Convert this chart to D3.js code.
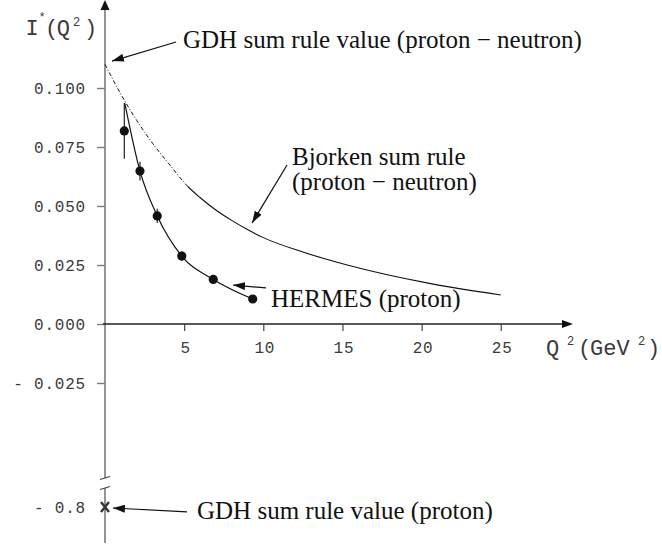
<!DOCTYPE html>
<html>
<head>
<meta charset="utf-8">
<script src="https://cdn.jsdelivr.net/npm/d3@7"></script>
<style>
  body { margin: 0; background: #fff; }
  svg { display: block; }
  .mono { font-family: "Liberation Mono", "Courier New", monospace; fill: #3a3a3a; }
  .serif { font-family: "Liberation Serif", "Times New Roman", serif; fill: #111; font-size: 25px; }
</style>
</head>
<body>
<svg id="chart" width="662" height="546"></svg>
<script>
// HERMES proton data
const hermesQ2 = [1.22, 2.21, 3.30, 4.85, 6.84, 9.33];
const hermesI = [0.0818, 0.0648, 0.0458, 0.0288, 0.0189, 0.0106];
const hermesErr = [0.0118, 0.0040, 0.0030, 0.0020, 0.0015, 0.0010];
// fit drawn through HERMES
const fitQ2 = [1.25, 2.21, 3.30, 4.85, 6.84, 9.33];
const fitI = [0.0936, 0.0648, 0.0458, 0.0288, 0.0189, 0.0106];
// Bjorken sum rule (proton - neutron); dotted below bjDottedTo
const bjQ2 = [0, 1, 2, 3, 4, 5.2, 6, 7, 8, 9, 10, 12.5, 15.3, 20.5, 25];
const bjI = [0.110, 0.0974, 0.0863, 0.0766, 0.0682, 0.0585, 0.0536, 0.0483, 0.0439, 0.0400, 0.0366, 0.0305, 0.0250, 0.0172, 0.0123];
const bjDottedTo = 5.2;
// GDH value for the proton (on the broken lower part of the axis)
const gdhProton = -0.8;

const xTicks = [5, 10, 15, 20, 25];
const yTicks = [0.1, 0.075, 0.05, 0.025, 0, -0.025];
const yTickLabels = ["0.100", "0.075", "0.050", "0.025", "0.000", "- 0.025"];
const yLowTicks = [-0.8];
const yLowTickLabels = ["- 0.8"];

const svg = d3.select("#chart");

const x = d3.scaleLinear().domain([0, 25]).range([105, 500.75]);
const y = d3.scaleLinear().domain([0, 0.1]).range([324, 88]);
const yLow = d3.scaleLinear().domain([-0.8, -0.85]).range([507, 543]);

const axisGrey = "#7a7a7a";

const defs = svg.append("defs");
defs.append("marker")
  .attr("id", "arr")
  .attr("viewBox", "0 0 12 8")
  .attr("refX", 12).attr("refY", 4)
  .attr("markerWidth", 12).attr("markerHeight", 8)
  .attr("markerUnits", "userSpaceOnUse")
  .attr("orient", "auto")
  .append("path").attr("d", "M0,0L12,4L0,8Z").attr("fill", "#111");

// clip regions for the dotted / solid parts of the Bjorken curve
defs.append("clipPath").attr("id", "clipDot").append("rect")
  .attr("x", 0).attr("y", 0).attr("width", x(bjDottedTo)).attr("height", 546);
defs.append("clipPath").attr("id", "clipSolid").append("rect")
  .attr("x", x(bjDottedTo)).attr("y", 0).attr("width", 662).attr("height", 546);

// ---- y axis (upper part, break, lower part)
const ax = x(0);
const breakTop = 478, breakBot = 488;
svg.append("line").attr("x1", ax).attr("x2", ax).attr("y1", 9).attr("y2", breakTop)
  .attr("stroke", axisGrey).attr("stroke-width", 1.6);
svg.append("line").attr("x1", ax).attr("x2", ax).attr("y1", breakBot).attr("y2", yLow(-0.85))
  .attr("stroke", axisGrey).attr("stroke-width", 1.6);
svg.append("path").attr("d", `M${ax},0L${ax - 4.5},10L${ax + 4.5},10Z`).attr("fill", "#111");
[breakTop, breakBot].forEach(b => {
  svg.append("line").attr("x1", ax - 5).attr("x2", ax + 5)
    .attr("y1", b + 1.5).attr("y2", b - 1.5)
    .attr("stroke", "#444").attr("stroke-width", 1.2);
});

function styleTicks(sel) {
  sel.attr("class", "mono")
    .style("font-size", "16px").style("letter-spacing", "0.8px");
}

const yAxis = svg.append("g").attr("transform", `translate(${ax},0)`)
  .call(d3.axisLeft(y).tickValues(yTicks).tickSize(8).tickFormat((d, i) => yTickLabels[i]));
yAxis.select(".domain").remove();
yAxis.selectAll("line").attr("stroke", axisGrey).attr("stroke-width", 1.4);
yAxis.selectAll("text").call(styleTicks).attr("x", -19).attr("dy", "0.35em").attr("fill", null);

const yLowAxis = svg.append("g").attr("transform", `translate(${ax},0)`)
  .call(d3.axisLeft(yLow).tickValues(yLowTicks).tickSize(0).tickFormat((d, i) => yLowTickLabels[i]));
yLowAxis.select(".domain").remove();
yLowAxis.selectAll("text").call(styleTicks).attr("x", -19).attr("dy", "0.35em").attr("fill", null);

// ---- x axis
const ay = y(0);
svg.append("line").attr("x1", ax - 2).attr("x2", 563).attr("y1", ay).attr("y2", ay)
  .attr("stroke", "#222").attr("stroke-width", 1.3);
svg.append("path").attr("d", `M573,${ay}L562,${ay - 4}L562,${ay + 4}Z`).attr("fill", "#111");
const xAxis = svg.append("g").attr("transform", `translate(0,${ay})`)
  .call(d3.axisBottom(x).tickValues(xTicks).tickSize(7).tickFormat(d3.format("d")));
xAxis.select(".domain").remove();
xAxis.selectAll("line").attr("stroke", "#444").attr("stroke-width", 1.2);
xAxis.selectAll("text").call(styleTicks).attr("x", 1).attr("y", 29).attr("dy", 0).attr("fill", null);

// ---- axis titles (one text element each, pieces as tspans)
function title(parts, baseline) {
  const t = svg.append("text").attr("class", "mono").attr("y", baseline);
  parts.forEach(p => {
    t.append("tspan").attr("x", p.x).attr("y", baseline - (p.sup ? p.sup : 0))
      .style("font-size", p.size + "px")
      .style("letter-spacing", p.ls ? p.ls + "px" : null)
      .text(p.s);
  });
}
title([
  { s: "I", x: 25.5, size: 22 },
  { s: "*", x: 38.5, size: 12, sup: 14 },
  { s: "(Q", x: 45, size: 22, ls: -1.5 },
  { s: "2", x: 73, size: 12, sup: 9 },
  { s: ")", x: 84, size: 22 }
], 35);
title([
  { s: "Q", x: 546, size: 22 },
  { s: "2", x: 567, size: 12, sup: 10 },
  { s: "(", x: 578, size: 22 },
  { s: "GeV", x: 590, size: 22 },
  { s: "2", x: 638, size: 12, sup: 10 },
  { s: ")", x: 647, size: 22 }
], 355);

// ---- Bjorken curve (one smooth curve, dotted then solid)
const line = d3.line().x(d => x(d[0])).y(d => y(d[1])).curve(d3.curveMonotoneX);
const bjPath = line(d3.zip(bjQ2, bjI));
svg.append("path")
  .attr("d", bjPath).attr("clip-path", "url(#clipDot)")
  .attr("fill", "none").attr("stroke", "#111").attr("stroke-width", 1)
  .attr("stroke-dasharray", "4,2,1,2");
svg.append("path")
  .attr("d", bjPath).attr("clip-path", "url(#clipSolid)")
  .attr("fill", "none").attr("stroke", "#111").attr("stroke-width", 1.1);

// ---- HERMES fit + points
svg.append("path")
  .attr("d", line(d3.zip(fitQ2, fitI)))
  .attr("fill", "none").attr("stroke", "#111").attr("stroke-width", 1.2);

const pts = d3.zip(hermesQ2, hermesI, hermesErr);
svg.append("g").selectAll("line").data(pts).join("line")
  .attr("x1", d => x(d[0])).attr("x2", d => x(d[0]))
  .attr("y1", d => y(d[1] - d[2])).attr("y2", d => y(d[1] + d[2]))
  .attr("stroke", "#222").attr("stroke-width", 1.2);
svg.append("g").selectAll("circle").data(pts).join("circle")
  .attr("cx", d => x(d[0])).attr("cy", d => y(d[1])).attr("r", 4.6)
  .attr("fill", "#111");

// ---- GDH proton marker (X)
const gx = x(0), gy = yLow(gdhProton);
svg.append("path")
  .attr("d", `M${gx - 4},${gy - 5}L${gx + 4},${gy + 5}M${gx + 4},${gy - 5}L${gx - 4},${gy + 5}`)
  .attr("stroke", "#333").attr("stroke-width", 2.4).attr("fill", "none");

// ---- annotations
const arrows = [
  { from: [x(4.49), y(0.1195)], to: [x(0.44), y(0.1114)] },
  { from: [x(11.5), y(0.0674)], to: [x(9.29), y(0.0428)] },
  { from: [x(10.17), y(0.0153)], to: [x(8.09), y(0.0165)] },
  { from: [x(5.18), yLow(-0.8069)], to: [x(0.5), yLow(-0.8014)] }
];
svg.append("g").selectAll("line").data(arrows).join("line")
  .attr("x1", d => d.from[0]).attr("y1", d => d.from[1])
  .attr("x2", d => d.to[0]).attr("y2", d => d.to[1])
  .attr("stroke", "#111").attr("stroke-width", 1.2)
  .attr("marker-end", "url(#arr)");

const notes = [
  { x: 183, y: 48, t: "GDH sum rule value (proton \u2212 neutron)" },
  { x: 292, y: 165, t: "Bjorken sum rule" },
  { x: 292, y: 190, t: "(proton \u2212 neutron)" },
  { x: 271, y: 307, t: "HERMES (proton)" },
  { x: 197, y: 519, t: "GDH sum rule value (proton)" }
];
svg.append("g").selectAll("text").data(notes).join("text")
  .attr("class", "serif")
  .attr("x", d => d.x).attr("y", d => d.y)
  .text(d => d.t);
</script>
</body>
</html>
